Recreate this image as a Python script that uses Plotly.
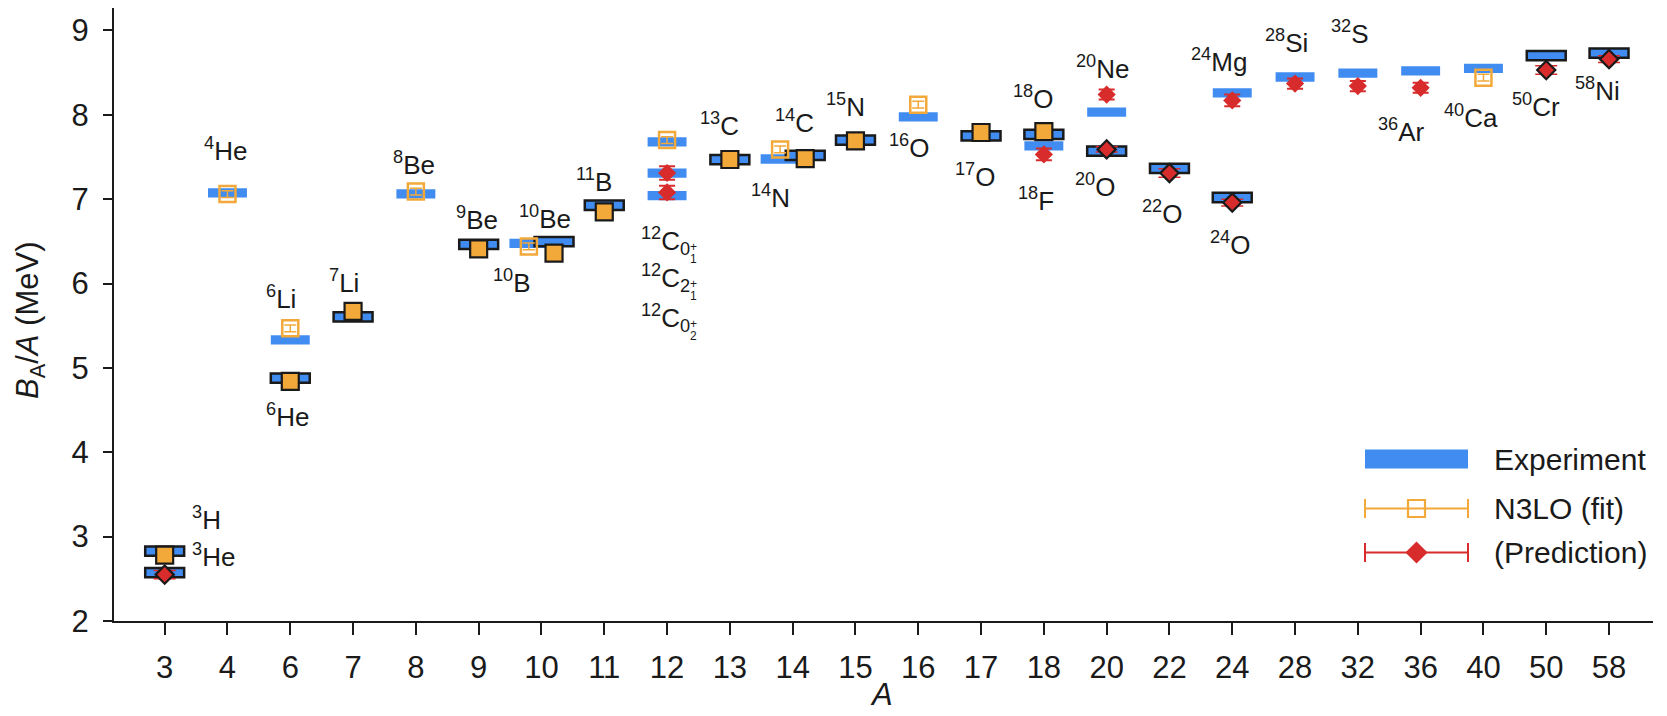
import plotly.graph_objects as go

# ---------------------------------------------------------------- data
A_TICKS = ["3", "4", "6", "7", "8", "9", "10", "11", "12", "13", "14", "15",
           "16", "17", "18", "20", "22", "24", "28", "32", "36", "40", "50", "58"]

# experimental binding energy per nucleon (MeV); 12C also has 2+_1 and 0+_2 states
EXP_NAME = ["3H", "3He", "4He", "6He", "6Li", "7Li", "8Be", "9Be", "10Be", "10B",
            "11B", "12C", "12C*", "12C**", "13C", "14C", "14N", "15N", "16O", "17O",
            "18O", "18F", "20Ne", "20O", "22O", "24Mg", "24O", "28Si", "32S", "36Ar",
            "40Ca", "50Cr", "58Ni"]
EXP_A = [3, 3, 4, 6, 6, 7, 8, 9, 10, 10, 11, 12, 12, 12, 13, 14, 14, 15, 16, 17,
         18, 18, 20, 20, 22, 24, 24, 28, 32, 36, 40, 50, 58]
EXP_Z = [1, 2, 2, 2, 3, 3, 4, 4, 4, 5, 5, 6, 6, 6, 6, 6, 7, 7, 8, 8,
         8, 9, 10, 8, 8, 12, 8, 14, 16, 18, 20, 24, 28]
EXP_BA = [2.827, 2.573, 7.074, 4.878, 5.332, 5.606, 7.062, 6.463, 6.498, 6.475,
          6.928, 7.680, 7.310, 7.042, 7.470, 7.520, 7.476, 7.699, 7.976, 7.751,
          7.767, 7.632, 8.032, 7.569, 7.365, 8.261, 7.020, 8.448, 8.493, 8.520,
          8.551, 8.701, 8.732]

# N3LO lattice results used in the fit
FIT_NAME = ["3H", "4He", "6He", "6Li", "7Li", "8Be", "9Be", "10B", "10Be", "11B",
            "12C", "13C", "14N", "14C", "15N", "16O", "17O", "18O", "40Ca"]
FIT_A = [3, 4, 6, 6, 7, 8, 9, 10, 10, 11, 12, 13, 14, 14, 15, 16, 17, 18, 40]
FIT_Z = [1, 2, 2, 3, 3, 4, 4, 5, 4, 5, 6, 6, 7, 6, 7, 8, 8, 8, 20]
FIT_BA = [2.78, 7.06, 4.84, 5.47, 5.67, 7.09, 6.41, 6.44, 6.36, 6.85,
          7.70, 7.47, 7.59, 7.48, 7.69, 8.12, 7.79, 7.80, 8.44]
FIT_ERR = [0.03, 0.04, 0.04, 0.04, 0.04, 0.04, 0.04, 0.04, 0.04, 0.04,
           0.04, 0.04, 0.04, 0.04, 0.04, 0.04, 0.04, 0.04, 0.04]

# N3LO lattice predictions
PRED_NAME = ["3He", "12C*", "12C**", "18F", "20Ne", "20O", "22O", "24Mg", "24O",
             "28Si", "32S", "36Ar", "50Cr", "58Ni"]
PRED_A = [3, 12, 12, 18, 20, 20, 22, 24, 24, 28, 32, 36, 50, 58]
PRED_Z = [2, 6, 6, 9, 10, 8, 8, 12, 8, 14, 16, 18, 24, 28]
PRED_BA = [2.55, 7.31, 7.08, 7.53, 8.24, 7.59, 7.31, 8.17, 6.96,
           8.37, 8.34, 8.32, 8.53, 8.66]
PRED_ERR = [0.05, 0.08, 0.08, 0.07, 0.06, 0.03, 0.05, 0.07, 0.04,
            0.06, 0.06, 0.06, 0.05, 0.04]

# nucleus labels
LABEL_TEXT = {
    "3H": "<sup>3</sup>H", "3He": "<sup>3</sup>He", "4He": "<sup>4</sup>He",
    "6He": "<sup>6</sup>He", "6Li": "<sup>6</sup>Li", "7Li": "<sup>7</sup>Li",
    "8Be": "<sup>8</sup>Be", "9Be": "<sup>9</sup>Be", "10Be": "<sup>10</sup>Be",
    "10B": "<sup>10</sup>B", "11B": "<sup>11</sup>B", "13C": "<sup>13</sup>C",
    "14C": "<sup>14</sup>C", "14N": "<sup>14</sup>N", "15N": "<sup>15</sup>N",
    "16O": "<sup>16</sup>O", "17O": "<sup>17</sup>O", "18O": "<sup>18</sup>O",
    "18F": "<sup>18</sup>F", "20Ne": "<sup>20</sup>Ne", "20O": "<sup>20</sup>O",
    "22O": "<sup>22</sup>O", "24Mg": "<sup>24</sup>Mg", "24O": "<sup>24</sup>O",
    "28Si": "<sup>28</sup>Si", "32S": "<sup>32</sup>S", "36Ar": "<sup>36</sup>Ar",
    "40Ca": "<sup>40</sup>Ca", "50Cr": "<sup>50</sup>Cr", "58Ni": "<sup>58</sup>Ni",
}
C12_STATES = [("0", "1"), ("2", "1"), ("0", "2")]   # J, n  for 12C_{J+_n}

# ---------------------------------------------------------------- styling
FONT = "Liberation Sans, Arial, Helvetica, sans-serif"
INK = "#1a1a1a"
BLUE = "#418cf0"
ORANGE = "#f2a93a"
RED = "#d82b2b"

BAR_W = 0.62        # width of experiment bars, in category units
BAR_H = 0.11        # thickness of experiment bars, MeV

# side-by-side placement where two nuclei share one A
X_SHIFT = {"10B": -0.2, "10Be": 0.2, "14N": -0.2, "14C": 0.2}

# label anchor positions (category coordinate, MeV)
LABEL_POS = {
    "3H": (0.41, 3.22, "left"), "3He": (0.41, 2.78, "left"),
    "4He": (0.97, 7.59, "center"), "6He": (1.96, 4.43, "center"),
    "6Li": (1.86, 5.84, "center"), "7Li": (2.85, 6.03, "center"),
    "8Be": (3.97, 7.42, "center"), "9Be": (4.97, 6.77, "center"),
    "10Be": (6.05, 6.78, "center"), "10B": (5.53, 6.03, "center"),
    "11B": (6.83, 7.22, "center"), "13C": (8.84, 7.88, "center"),
    "14C": (10.03, 7.92, "center"), "14N": (9.65, 7.03, "center"),
    "15N": (10.84, 8.11, "center"), "16O": (11.85, 7.62, "center"),
    "17O": (12.91, 7.28, "center"), "18O": (13.83, 8.21, "center"),
    "18F": (13.87, 7.00, "center"), "20Ne": (14.94, 8.56, "center"),
    "20O": (14.81, 7.16, "center"), "22O": (15.88, 6.84, "center"),
    "24Mg": (16.79, 8.64, "center"), "24O": (16.97, 6.48, "center"),
    "28Si": (17.87, 8.87, "center"), "32S": (18.88, 8.98, "center"),
    "36Ar": (19.70, 7.81, "center"), "40Ca": (20.80, 7.98, "center"),
    "50Cr": (21.84, 8.11, "center"), "58Ni": (22.82, 8.30, "center"),
}
C12_LABEL_X = 7.56
C12_LABEL_Y = [6.51, 6.07, 5.59]

# plot box in pixels (for the overlay axis used by the key)
L, R, T, B = 114, 1653, 8, 621
W, H = 1667, 716


def xpos(names, masses):
    return [A_TICKS.index(str(a)) + X_SHIFT.get(n, 0.0) for n, a in zip(names, masses)]


def split(names, masses, zs, vals, errs=None):
    """Split into N != Z (outlined) and N == Z groups."""
    xs = xpos(names, masses)
    out = {True: ([], [], []), False: ([], [], [])}
    for i, (a, z) in enumerate(zip(masses, zs)):
        key = (a - z) != z
        out[key][0].append(xs[i])
        out[key][1].append(vals[i])
        out[key][2].append(errs[i] if errs else 0)
    return out


fig = go.Figure()

# ---- experiment bars
exp = split(EXP_NAME, EXP_A, EXP_Z, EXP_BA)
for outlined in (False, True):
    xs, ys, _ = exp[outlined]
    fig.add_trace(go.Bar(
        x=xs, y=[BAR_H] * len(xs), base=[v - BAR_H / 2 for v in ys],
        width=BAR_W, marker=dict(color=BLUE,
                                 line=dict(color=INK if outlined else BLUE,
                                           width=2.5 if outlined else 0)),
        hoverinfo="skip"))

# ---- fitted values
fit = split(FIT_NAME, FIT_A, FIT_Z, FIT_BA, FIT_ERR)
xs, ys, es = fit[False]
fig.add_trace(go.Scatter(
    x=xs, y=ys, mode="markers",
    error_y=dict(type="data", array=es, color=ORANGE, thickness=1.5, width=6),
    marker=dict(symbol="square-open", size=16, color=ORANGE, line=dict(width=2.5))))
xs, ys, es = fit[True]
fig.add_trace(go.Scatter(
    x=xs, y=ys, mode="markers",
    error_y=dict(type="data", array=es, color=ORANGE, thickness=1.5, width=6),
    marker=dict(symbol="square", size=17, color=ORANGE, line=dict(color=INK, width=2.2))))

# ---- predictions
pred = split(PRED_NAME, PRED_A, PRED_Z, PRED_BA, PRED_ERR)
xs, ys, es = pred[False]
fig.add_trace(go.Scatter(
    x=xs, y=ys, mode="markers",
    error_y=dict(type="data", array=es, color=RED, thickness=2, width=8),
    marker=dict(symbol="diamond", size=14, color=RED, line=dict(width=0))))
xs, ys, es = pred[True]
fig.add_trace(go.Scatter(
    x=xs, y=ys, mode="markers",
    error_y=dict(type="data", array=es, color=RED, thickness=1.5, width=11),
    marker=dict(symbol="diamond", size=14, color=RED, line=dict(color=INK, width=2.2))))

# ---- nucleus labels
ann = []
for key, (x, y, anchor) in LABEL_POS.items():
    ann.append(dict(x=x, y=y, xref="x", yref="y", text=LABEL_TEXT[key],
                    showarrow=False, xanchor=anchor, yanchor="middle",
                    font=dict(size=26, color=INK, family=FONT)))
for (j, n), y in zip(C12_STATES, C12_LABEL_Y):
    ann.append(dict(x=C12_LABEL_X, y=y, xref="x", yref="y",
                    text="<sup>12</sup>C<sub>" + j + "</sub>",
                    showarrow=False, xanchor="left", yanchor="middle",
                    font=dict(size=26, color=INK, family=FONT)))
    # stacked parity sign and state index after the spin subscript
    ann.append(dict(x=C12_LABEL_X, y=y, xref="x", yref="y", text="+",
                    showarrow=False, xanchor="left", yanchor="middle",
                    xshift=49, yshift=-6, font=dict(size=12, color=INK, family=FONT)))
    ann.append(dict(x=C12_LABEL_X, y=y, xref="x", yref="y", text=n,
                    showarrow=False, xanchor="left", yanchor="middle",
                    xshift=49, yshift=-18, font=dict(size=12, color=INK, family=FONT)))

# ---- axis titles
ann.append(dict(x=(881 - L) / (R - L), y=(B - 694) / (B - T), xref="paper", yref="paper",
                text="<i>A</i>", showarrow=False, xanchor="center", yanchor="middle",
                font=dict(size=31, color=INK, family=FONT)))
ann.append(dict(x=(30 - L) / (R - L), y=(B - 321) / (B - T), xref="paper", yref="paper",
                text="<i>B</i><sub>A</sub>/<i>A</i> (MeV)", textangle=-90,
                showarrow=False, xanchor="center", yanchor="middle",
                font=dict(size=31, color=INK, family=FONT)))

# ---- key (drawn on an overlay axis measured in pixels)
KEY_X0, KEY_X1, KEY_TX = 1365, 1468, 1492
KEY_Y = [459, 508.5, 552.5]
shapes = [dict(type="rect", xref="x2", yref="y2", x0=KEY_X0, x1=KEY_X1,
               y0=KEY_Y[0] - 9.5, y1=KEY_Y[0] + 9.5, fillcolor=BLUE, line=dict(width=0))]
kx = (KEY_X0 + KEY_X1) / 2
fig.add_trace(go.Scatter(
    x=[kx], y=[KEY_Y[1]], xaxis="x2", yaxis="y2", mode="markers",
    error_x=dict(type="data", array=[(KEY_X1 - KEY_X0) / 2], color=ORANGE,
                 thickness=2, width=9.5),
    marker=dict(symbol="square-open", size=17, color=ORANGE, line=dict(width=2.2))))
fig.add_trace(go.Scatter(
    x=[kx], y=[KEY_Y[2]], xaxis="x2", yaxis="y2", mode="markers",
    error_x=dict(type="data", array=[(KEY_X1 - KEY_X0) / 2], color=RED,
                 thickness=2, width=9.5),
    marker=dict(symbol="diamond", size=17, color=RED, line=dict(width=0))))
for txt, y in zip(["Experiment", "N3LO (fit)", "(Prediction)"], KEY_Y):
    ann.append(dict(x=KEY_TX, y=y, xref="x2", yref="y2", text=txt, showarrow=False,
                    xanchor="left", yanchor="middle",
                    font=dict(size=30, color=INK, family=FONT)))

axis_common = dict(showgrid=False, zeroline=False, showline=True, linecolor=INK,
                   linewidth=2, ticks="outside", tickcolor=INK, tickwidth=2,
                   tickfont=dict(size=31, color=INK, family=FONT))

fig.update_layout(
    width=W, height=H,
    margin=dict(l=L, r=W - R, t=T, b=H - B),
    paper_bgcolor="white", plot_bgcolor="white",
    barmode="overlay", showlegend=False,
    font=dict(family=FONT, color=INK),
    xaxis=dict(range=[-0.807, 23.70], tickmode="array",
               tickvals=list(range(len(A_TICKS))), ticktext=A_TICKS,
               ticklen=12, ticklabelstandoff=6, **axis_common),
    yaxis=dict(range=[2, 9.266], tickmode="array", tickvals=list(range(2, 10)),
               ticklen=9, ticklabelstandoff=8, **axis_common),
    xaxis2=dict(range=[L, R], overlaying="x", visible=False, anchor="y2"),
    yaxis2=dict(range=[B, T], overlaying="y", visible=False, anchor="x2"),
    annotations=ann, shapes=shapes,
)

fig.write_html("out.html")
